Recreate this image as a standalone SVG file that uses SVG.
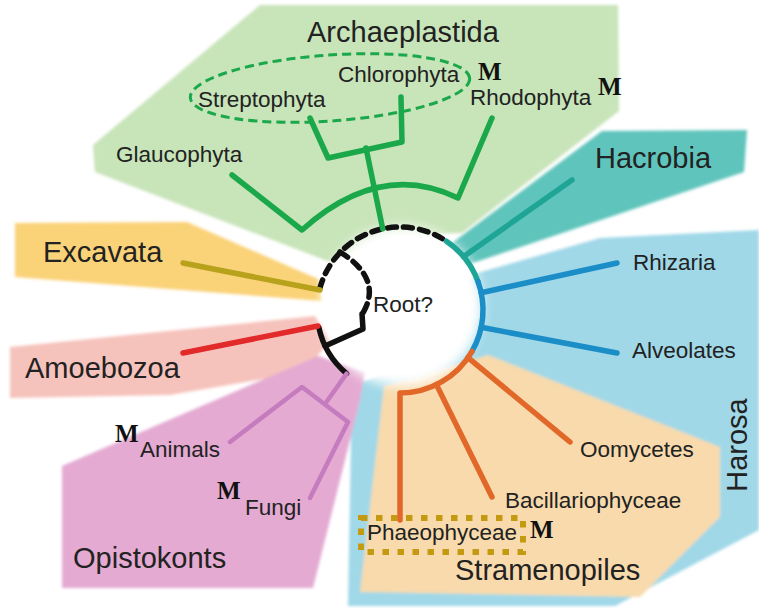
<svg xmlns="http://www.w3.org/2000/svg" width="759" height="610" viewBox="0 0 759 610">
<defs>
<filter id="soft" x="-10%" y="-10%" width="120%" height="120%"><feGaussianBlur stdDeviation="1.8"/></filter>
<filter id="halo" x="-30%" y="-30%" width="160%" height="160%"><feGaussianBlur stdDeviation="6"/></filter>
<style>
.lbl{font-family:"Liberation Sans",Arial,sans-serif;fill:#222}
.big{font-size:29px}
.sm{font-size:22.5px}
.m{font-family:"Liberation Serif","Times New Roman",serif;font-weight:bold;font-size:25px;fill:#111}
.br{fill:none;stroke-width:5.5;stroke-linecap:round;stroke-linejoin:round}
.g{stroke:#1aa84b}
.t{stroke:#1ea596}
.b{stroke:#1b8ec8}
.o{stroke:#e2682a}
.k{stroke:#111}
.pu{stroke:#c57cbe;stroke-width:4.5}
</style>
</defs>
<rect width="759" height="610" fill="#fff"/>
<g id="regions" filter="url(#soft)">
<polygon id="bg-archaeplastida" points="260,5 618,5 619,111 462,233 400,236 330,262 95,172 93,145" fill="#c8e4b9"/>
<polygon id="bg-hacrobia" points="602,131 747,130 744,172 470,264 452,243" fill="#5fc4bc"/>
<polygon id="bg-harosa" points="474,274 600,238 759,230 759,530 615,606 348,606 352,385 392,372" fill="#a0d8e8"/>
<polygon id="bg-stramenopiles" points="384,386 488,355 720,447 720,517 640,597 360,592" fill="#f8daac"/>
<polygon id="bg-excavata" points="15,223 187,222 318,279 322,301 15,277" fill="#fad278"/>
<polygon id="bg-amoebozoa" points="10,347 315,316 330,340 305,372 170,395 10,398" fill="#f6c3bc"/>
<polygon id="bg-opistokonts" points="62,466 318,356 365,372 360,400 313,588 62,588" fill="#e4aad2"/>
</g>
<circle cx="402" cy="306" r="80" fill="#fff" filter="url(#halo)"/>
<ellipse id="chlorophyta-streptophyta-ring" cx="330" cy="88" rx="140" ry="33" transform="rotate(-4 330 88)" fill="none" stroke="#1aa84b" stroke-width="3" stroke-dasharray="9 5"/>
<rect id="phaeophyceae-box" x="361" y="518" width="162" height="34" fill="none" stroke="#c49a10" stroke-width="6" stroke-dasharray="6.5 8.5"/>
<g id="connectors">
<path class="br k" d="M319.8 288.5 A83 83 0 0 1 446.4 241.2" stroke-dasharray="9 7"/>
<path class="br k" d="M340 252 Q385 280 361 316" stroke-dasharray="9 7"/>
<path class="br k" d="M362 314 L363 329 L325 346"/>
<path class="br k" d="M318.8 327.3 A83 83 0 0 0 346.6 373.6"/>
<path class="br t" d="M446.4 241.2 A83 83 0 0 1 478 281.6"/>
<path class="br t" d="M463.6 256.6 L572 180"/>
<path class="br b" d="M478 281.6 A83 83 0 0 1 471.9 351.5"/>
<path class="br b" d="M481.2 292.7 L617 263"/>
<path class="br b" d="M481.2 327.3 L617 353"/>
<path class="br o" d="M471.9 351.5 A83 83 0 0 1 400 393 L400 520"/>
<path class="br o" d="M468 357.6 L570 442"/>
<path class="br o" d="M436.4 384.6 L492 497"/>
<path class="br" stroke="#b8a21c" d="M183 263 L320 290"/>
<path class="br" stroke="#e32a2b" d="M183 353 L318 326"/>
<path class="br pu" d="M346.6 373.6 L325 404"/>
<path class="br pu" d="M230 442 L302 387 L348 422 L310 498"/>
<path class="br g" d="M232 175 L302 230 Q380 160 458 198 L492 118"/>
<path class="br g" d="M382.7 228.8 L366 148"/>
<path class="br g" d="M310 118 L328 158 L402 142 L401 97"/>
</g>
<g id="n-archaeplastida"><text class="lbl big" x="307" y="42">Archaeplastida</text></g>
<g id="n-chlorophyta"><text class="lbl sm" x="338" y="82">Chlorophyta</text><text class="m" x="478" y="80">M</text></g>
<g id="n-streptophyta"><text class="lbl sm" x="198" y="107">Streptophyta</text></g>
<g id="n-rhodophyta"><text class="lbl sm" x="470" y="105">Rhodophyta</text><text class="m" x="598" y="95">M</text></g>
<g id="n-glaucophyta"><text class="lbl sm" x="116" y="162">Glaucophyta</text></g>
<g id="n-hacrobia"><text class="lbl big" x="595" y="168">Hacrobia</text></g>
<g id="n-rhizaria"><text class="lbl sm" x="633" y="270">Rhizaria</text></g>
<g id="n-alveolates"><text class="lbl sm" x="632" y="358">Alveolates</text></g>
<g id="n-harosa"><text class="lbl big" text-anchor="middle" transform="translate(747 445) rotate(-90)">Harosa</text></g>
<g id="n-excavata"><text class="lbl big" x="43" y="262">Excavata</text></g>
<g id="n-amoebozoa"><text class="lbl big" x="25" y="378">Amoebozoa</text></g>
<g id="n-animals"><text class="m" x="115" y="442">M</text><text class="lbl sm" x="140" y="457">Animals</text></g>
<g id="n-fungi"><text class="m" x="217" y="499">M</text><text class="lbl sm" x="245" y="515">Fungi</text></g>
<g id="n-opistokonts"><text class="lbl big" x="73" y="568">Opistokonts</text></g>
<g id="n-oomycetes"><text class="lbl sm" x="580" y="457">Oomycetes</text></g>
<g id="n-bacillariophyceae"><text class="lbl sm" x="505" y="508">Bacillariophyceae</text></g>
<g id="n-phaeophyceae"><text class="lbl sm" x="367" y="540">Phaeophyceae</text><text class="m" x="530" y="538">M</text></g>
<g id="n-stramenopiles"><text class="lbl big" x="455" y="580">Stramenopiles</text></g>
<g id="n-root"><text class="lbl sm" x="373" y="312">Root?</text></g>
</svg>
